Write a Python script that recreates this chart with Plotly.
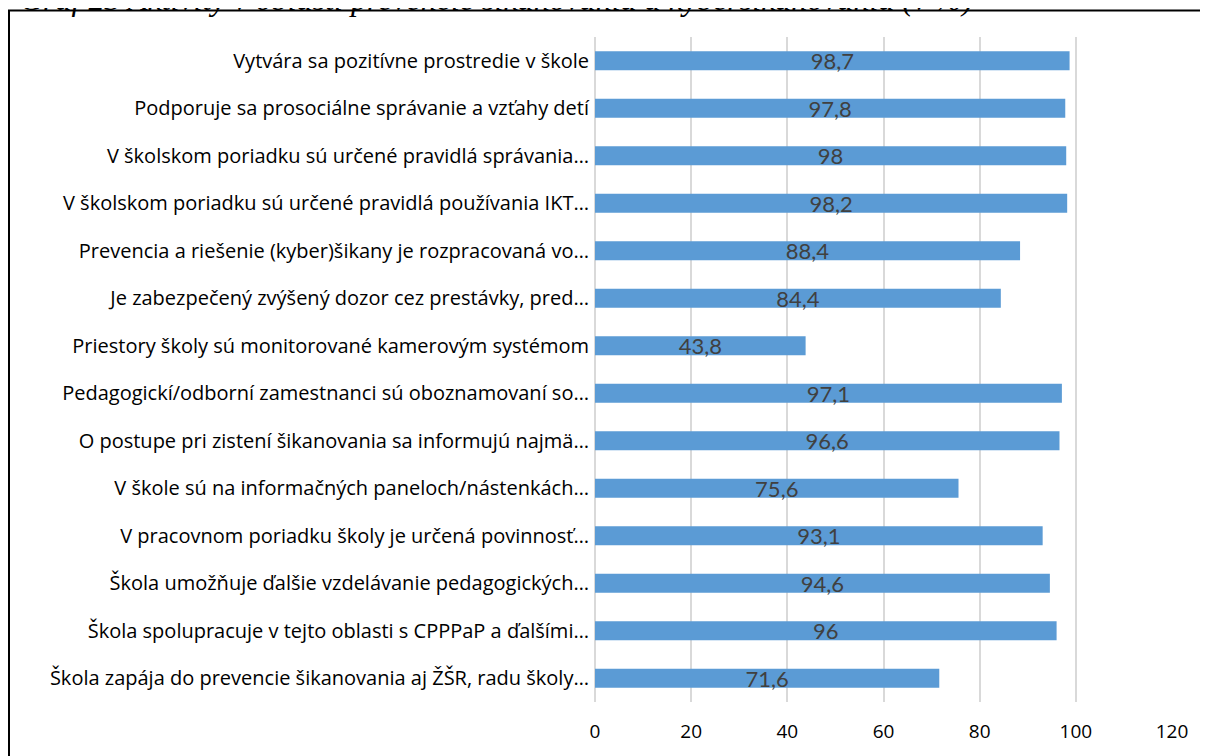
import plotly.graph_objects as go

categories = [
    "Vytvára sa pozitívne prostredie v škole",
    "Podporuje sa prosociálne správanie a vzťahy detí",
    "V školskom poriadku sú určené pravidlá správania…",
    "V školskom poriadku sú určené pravidlá používania IKT…",
    "Prevencia a riešenie (kyber)šikany je rozpracovaná vo…",
    "Je zabezpečený zvýšený dozor cez prestávky, pred…",
    "Priestory školy sú monitorované kamerovým systémom",
    "Pedagogickí/odborní zamestnanci sú oboznamovaní so…",
    "O postupe pri zistení šikanovania sa informujú najmä…",
    "V škole sú na informačných paneloch/nástenkách…",
    "V pracovnom poriadku školy je určená povinnosť…",
    "Škola umožňuje ďalšie vzdelávanie pedagogických…",
    "Škola spolupracuje v tejto oblasti s CPPPaP a ďalšími…",
    "Škola zapája do prevencie šikanovania aj ŽŠR, radu školy…",
]
values = [98.7, 97.8, 98.0, 98.2, 88.4, 84.4, 43.8, 97.1, 96.6, 75.6, 93.1, 94.6, 96.0, 71.6]
x_ticks = [0, 20, 40, 60, 80, 100, 120]
title_text = "Graf 23 Aktivity v oblasti prevencie šikanovania a kyberšikanovania (v %)"

def fmt(v):
    s = f"{v:.1f}"
    if s.endswith(".0"):
        s = s[:-2]
    return s.replace(".", ",")

labels = [fmt(v) for v in values]

OFF = 8  # page body margin
W, H = 1208 - OFF, 756 - OFF
# plot area in page pixels: x 595..1172, y 37..702
L = 595 - OFF
T = 37 - OFF
R = W - (1172 - OFF)
B = H - (702 - OFF)
pw, ph = W - L - R, H - T - B

def px_x(p):
    return (p - OFF - L) / pw

def px_y(p):
    return (H - B - (p - OFF)) / ph

LABEL_FONT = "Open Sans, Noto Sans, sans-serif"
VALUE_FONT = "Lato, Carlito, Calibri, sans-serif"

fig = go.Figure(go.Bar(
    x=values, y=categories, orientation="h",
    marker=dict(color="#5B9BD5", line=dict(width=0)),
    text=labels, textposition="inside", insidetextanchor="middle",
    constraintext="none", textangle=0,
    textfont=dict(family=VALUE_FONT, size=22, color="#404040"),
    width=0.4,
    hoverinfo="skip",
))

fig.update_layout(
    width=W, height=H,
    margin=dict(l=L, r=R, t=T, b=B, autoexpand=False),
    paper_bgcolor="white", plot_bgcolor="white",
    showlegend=False,
    xaxis=dict(range=[0, 120], tickvals=x_ticks, showgrid=True,
               gridcolor="#D9D9D9", gridwidth=2, zeroline=True,
               zerolinecolor="#D9D9D9", zerolinewidth=2,
               tickfont=dict(family=LABEL_FONT, size=19, color="#000000"),
               ticks="", showline=False, ticklabelstandoff=16, fixedrange=True),
    yaxis=dict(autorange="reversed", ticks="", showgrid=False, showline=False,
               tickfont=dict(family=LABEL_FONT, size=20, color="#000000"),
               ticklabelstandoff=5, fixedrange=True),
    shapes=[
        dict(type="line", xref="paper", yref="paper", x0=px_x(0), x1=px_x(1208),
             y0=px_y(10.5), y1=px_y(10.5), line=dict(color="#000000", width=2)),
        dict(type="line", xref="paper", yref="paper", x0=px_x(9), x1=px_x(9),
             y0=px_y(10), y1=px_y(756), line=dict(color="#000000", width=2)),
    ],
    annotations=[
        dict(text="<i>" + title_text + "</i>", xref="paper", yref="paper",
             x=px_x(18), y=px_y(19), xanchor="left", yanchor="bottom",
             showarrow=False,
             font=dict(family="Liberation Serif, Times New Roman, serif", size=32, color="#000000")),
    ],
)

fig.write_html("out.html", config={"displayModeBar": False})
